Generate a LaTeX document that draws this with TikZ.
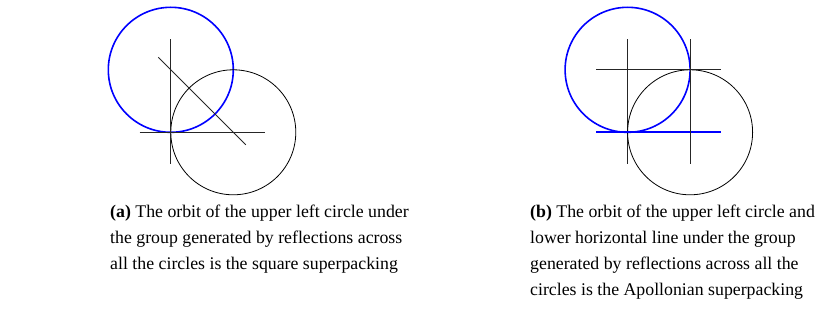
\documentclass[tikz,border=0pt]{standalone}
\usepackage{fontspec}
\setmainfont{Liberation Serif}
\tikzset{
  bluecirc/.style={draw=blue, line width=1.6pt},
  blackcirc/.style={draw=black, line width=0.8pt},
  refline/.style={draw=black!85, line width=0.95pt},
  blueline/.style={draw=blue, line width=1.6pt},
  captext/.style={anchor=base west, align=left, inner sep=0pt, font=\fontsize{17.8}{26}\selectfont}
}
\begin{document}
\begin{tikzpicture}[x=1pt,y=-1pt]
\useasboundingbox (0,0) rectangle (840,326);
% (a)
\begin{scope}[shift={(170.8,132.3)}, x=62.5pt, y=62.5pt]
  \coordinate (a0) at (0,0);
  \coordinate (ab) at (0,1);
  \coordinate (ak) at (1,0);
  \draw[bluecirc] (ab) circle[radius=62.5pt];
  \draw[blackcirc] (ak) circle[radius=62.5pt];
  \draw[refline] (0,-0.5) -- (0,1.5);
  \draw[refline] (-0.5,0) -- (1.5,0);
  \draw[refline] (-0.2,1.2) -- (1.2,-0.2);
\end{scope}
% (b)
\begin{scope}[shift={(627.6,132.3)}, x=62.5pt, y=62.5pt]
  \coordinate (b0) at (0,0);
  \coordinate (bb) at (0,1);
  \coordinate (bk) at (1,0);
  \draw[refline] (0,-0.5) -- (0,1.5);
  \draw[bluecirc] (bb) circle[radius=62.5pt];
  \draw[blackcirc] (bk) circle[radius=62.5pt];
  \draw[refline] (-0.5,1) -- (1.5,1);
  \draw[blueline] (-0.5,0) -- (1.5,0);
  \draw[refline] (1,-0.5) -- (1,1.5);
\end{scope}
\node[captext] (capa) at (110,269.5) {\textbf{(a)} The orbit of the upper left circle under\\the group generated by reflections across\\all the circles is the square superpacking};
\node[captext] (capb) at (530,295.5) {\textbf{(b)} The orbit of the upper left circle and\\lower horizontal line under the group\\generated by reflections across all the\\circles is the Apollonian superpacking};
\end{tikzpicture}
\end{document}
